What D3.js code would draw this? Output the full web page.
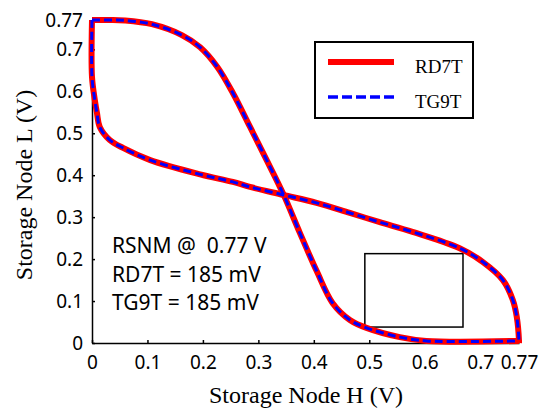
<!DOCTYPE html>
<html>
<head>
<meta charset="utf-8">
<script src="https://cdn.jsdelivr.net/npm/d3@7"></script>
<style>
body { margin: 0; background: #fff; }
svg { display: block; }
.axis path, .axis line { stroke: #000; stroke-width: 1.5; }
.axis text { font-family: "Noto Sans", sans-serif; font-size: 19px; fill: #000; }
</style>
</head>
<body>
<script>
// butterfly curves (V_H, V_L)
const curveA = [
  [0, 0.77], [0.03, 0.77], [0.06, 0.769], [0.108, 0.76], [0.162, 0.734], [0.195, 0.705],
  [0.226, 0.658], [0.254, 0.596], [0.285, 0.515], [0.315, 0.436], [0.345, 0.355],
  [0.375, 0.262], [0.405, 0.172], [0.434, 0.095], [0.465, 0.055], [0.495, 0.036],
  [0.555, 0.014], [0.603, 0.005], [0.77, 0.005]
];
const curveB = [
  [0, 0.77], [0, 0.634], [0.005, 0.58], [0.009, 0.548], [0.014, 0.515],
  [0.032, 0.484], [0.056, 0.465], [0.105, 0.436], [0.195, 0.402], [0.254, 0.384],
  [0.285, 0.372], [0.345, 0.353], [0.405, 0.334], [0.465, 0.31], [0.519, 0.288],
  [0.578, 0.265], [0.663, 0.226], [0.705, 0.193], [0.741, 0.15], [0.759, 0.102],
  [0.766, 0.062], [0.77, 0.005], [0.77, 0]
];
const xTicks = [0, 0.1, 0.2, 0.3, 0.4, 0.5, 0.6, 0.7, 0.77];
const yTicks = [0, 0.1, 0.2, 0.3, 0.4, 0.5, 0.6, 0.7, 0.77];
const snmBox = [[0.492, 0.038], [0.669, 0.213]];
const seriesNames = ['RD7T', 'TG9T'];
const notes = ['RSNM @  0.77 V', 'RD7T = 185 mV', 'TG9T = 185 mV'];

const svg = d3.select(document.body)
    .append('svg')
    .attr('width', 541)
    .attr('height', 412);

const x = d3.scaleLinear().domain([0, 0.77]).range([92, 519]);
const y = d3.scaleLinear().domain([0, 0.77]).range([343, 20]);

const fmt = d => d === 0 ? '0' : String(d);

svg.append('g')
    .attr('class', 'axis')
    .attr('transform', 'translate(0,343)')
    .call(d3.axisBottom(x).tickValues(xTicks).tickFormat(fmt).tickSize(-3).tickSizeOuter(0).tickPadding(13));

svg.append('g')
    .attr('class', 'axis')
    .attr('transform', 'translate(92,0)')
    .call(d3.axisLeft(y).tickValues(yTicks).tickFormat(fmt).tickSize(-3).tickSizeOuter(0).tickPadding(9));

svg.selectAll('.domain').attr('fill', 'none');

// snm square
svg.append('rect')
    .attr('x', x(snmBox[0][0]))
    .attr('y', y(snmBox[1][1]))
    .attr('width', x(snmBox[1][0]) - x(snmBox[0][0]))
    .attr('height', y(snmBox[0][1]) - y(snmBox[1][1]))
    .attr('fill', 'none')
    .attr('stroke', '#000')
    .attr('stroke-width', 1.5);

const line = d3.line()
    .x(d => x(d[0]))
    .y(d => y(d[1]))
    .curve(d3.curveCatmullRom.alpha(0.5));

[curveA, curveB].forEach(function(c){
    svg.append('path')
        .attr('d', line(c))
        .attr('fill', 'none')
        .attr('stroke', '#ff0000')
        .attr('stroke-width', 6)
        .attr('stroke-linejoin', 'round');
});
[curveA, curveB].forEach(function(c){
    svg.append('path')
        .attr('d', line(c))
        .attr('fill', 'none')
        .attr('stroke', '#0000ff')
        .attr('stroke-width', 3)
        .attr('stroke-dasharray', '8,4');
});

// legend
const lg = svg.append('g');
lg.append('rect')
    .attr('x', 315).attr('y', 42)
    .attr('width', 158).attr('height', 76)
    .attr('fill', '#fff')
    .attr('stroke', '#000')
    .attr('stroke-width', 2);
lg.append('line')
    .attr('x1', 328).attr('x2', 394).attr('y1', 62).attr('y2', 62)
    .attr('stroke', '#ff0000').attr('stroke-width', 6);
lg.append('line')
    .attr('x1', 328).attr('x2', 394).attr('y1', 97).attr('y2', 97)
    .attr('stroke', '#0000ff').attr('stroke-width', 3.5)
    .attr('stroke-dasharray', '10,4');
lg.selectAll('text.name')
    .data(seriesNames)
    .enter()
    .append('text')
    .attr('x', 415)
    .attr('y', (d, i) => 73 + i * 35)
    .attr('font-family', '"Liberation Serif", serif')
    .attr('font-size', 19)
    .text(d => d);

// annotation
svg.selectAll('text.note')
    .data(notes)
    .enter()
    .append('text')
    .attr('x', 112)
    .attr('y', (d, i) => 253 + i * 28.5)
    .attr('font-family', '"Noto Sans", sans-serif')
    .attr('font-size', 21)
    .attr('xml:space', 'preserve')
    .text(d => d);

// axis titles
svg.append('text')
    .attr('x', 306)
    .attr('y', 403)
    .attr('text-anchor', 'middle')
    .attr('font-family', '"Liberation Serif", serif')
    .attr('font-size', 24)
    .text('Storage Node H (V)');

svg.append('text')
    .attr('transform', 'translate(32,185) rotate(-90)')
    .attr('text-anchor', 'middle')
    .attr('font-family', '"Liberation Serif", serif')
    .attr('font-size', 24)
    .text('Storage Node L (V)');
</script>
</body>
</html>
